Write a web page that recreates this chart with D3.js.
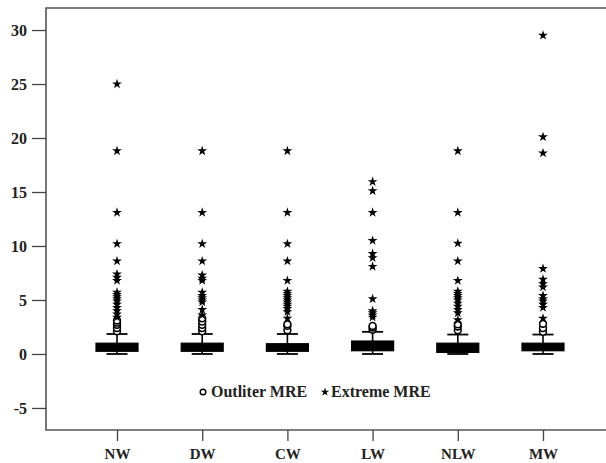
<!DOCTYPE html>
<html>
<head>
<meta charset="utf-8">
<script src="https://cdn.jsdelivr.net/npm/d3@7"></script>
<style>
  html, body { margin: 0; padding: 0; background: #fff; }
  svg { display: block; }
  text { font-family: "Liberation Serif", "Times New Roman", serif; }
</style>
</head>
<body>
<svg id="chart" width="606" height="463"></svg>
<script>
const categories = ["NW", "DW", "CW", "LW", "NLW", "MW"];
const whiskerLow  = [0, 0, 0, 0, 0, 0];
const q1          = [0.25, 0.25, 0.25, 0.3, 0.15, 0.3];
const median      = [0.6, 0.6, 0.55, 0.75, 0.5, 0.6];
const q3          = [1.0, 1.0, 0.95, 1.2, 1.0, 1.0];
const whiskerHigh = [1.85, 1.85, 1.85, 2.05, 1.8, 1.8];
const outliers = [
  [2.1, 2.4, 2.7, 2.9, 3.1],
  [2.1, 2.4, 2.7, 3.0, 3.3],
  [2.2, 2.6, 2.75],
  [2.25, 2.45, 2.6],
  [2.2, 2.55, 2.75],
  [2.05, 2.4, 2.8]
];
const extremes = [
  [3.4, 3.7, 4.0, 4.3, 4.6, 4.9, 5.1, 5.3, 5.5, 5.7, 6.8, 7.1, 7.4, 8.6, 10.2, 13.1, 18.8, 25.0],
  [3.6, 4.1, 4.8, 5.0, 5.2, 5.4, 5.7, 6.8, 7.0, 7.3, 8.6, 10.2, 13.1, 18.8],
  [3.3, 3.9, 4.2, 4.4, 4.6, 4.8, 5.0, 5.2, 5.4, 5.6, 5.8, 6.8, 8.6, 10.2, 13.1, 18.8],
  [3.4, 3.6, 3.8, 4.0, 5.1, 8.1, 8.9, 9.3, 10.5, 13.1, 15.1, 15.95],
  [3.15, 3.8, 4.1, 4.4, 4.7, 5.0, 5.2, 5.4, 5.6, 5.8, 6.8, 8.6, 10.25, 13.1, 18.8],
  [3.3, 4.3, 4.6, 4.9, 5.1, 5.4, 6.2, 6.5, 6.9, 7.9, 18.6, 20.1, 29.5]
];
const yTicks = [-5, 0, 5, 10, 15, 20, 25, 30];
const legendLabels = ["Outliter MRE", "Extreme MRE"];

const svg = d3.select("#chart");
const frame = { left: 46, right: 620, top: 8, bottom: 430 };

const y = d3.scaleLinear().domain([-7.04, 32.04]).range([frame.bottom, frame.top]);
const x = d3.scalePoint().domain(categories).range([117, 543]);

// frame (left, top, bottom)
svg.append("path")
  .attr("d", `M${frame.right},${frame.top}H${frame.left}V${frame.bottom}H${frame.right}`)
  .attr("fill", "none").attr("stroke", "#555").attr("stroke-width", 1.6);

// y axis
const yAxis = svg.append("g").attr("transform", `translate(${frame.left},0)`)
  .call(d3.axisLeft(y).tickValues(yTicks).tickSize(14).tickPadding(5).tickFormat(d => String(d)));
yAxis.select(".domain").remove();
yAxis.selectAll(".tick line").attr("stroke", "#444").attr("stroke-width", 1.3);
yAxis.selectAll(".tick text").attr("font-size", 16).attr("font-weight", "bold")
  .attr("fill", "#222").style("font-family", '"Liberation Serif", serif');

// x axis
const xAxis = svg.append("g").attr("transform", `translate(0,${frame.bottom})`)
  .call(d3.axisBottom(x).tickSize(11).tickPadding(7));
xAxis.select(".domain").remove();
xAxis.selectAll(".tick line").attr("stroke", "#444").attr("stroke-width", 1.3);
xAxis.selectAll(".tick text").attr("font-size", 15).attr("font-weight", "bold")
  .attr("fill", "#222").style("font-family", '"Liberation Serif", serif');

const boxW = 42, capW = 21;
const star = d3.symbol().type(d3.symbolStar).size(30);
const starLegend = d3.symbol().type(d3.symbolStar).size(22);

categories.forEach((c, i) => {
  const cx = x(c);
  const g = svg.append("g");
  g.append("line").attr("x1", cx).attr("x2", cx)
    .attr("y1", y(whiskerLow[i])).attr("y2", y(whiskerHigh[i]))
    .attr("stroke", "#000").attr("stroke-width", 1.6);
  [whiskerLow[i], whiskerHigh[i]].forEach(v => {
    g.append("line").attr("x1", cx - capW / 2).attr("x2", cx + capW / 2)
      .attr("y1", y(v)).attr("y2", y(v))
      .attr("stroke", "#000").attr("stroke-width", 1.8);
  });
  g.append("rect").attr("x", cx - boxW / 2).attr("width", boxW)
    .attr("y", y(q3[i])).attr("height", y(q1[i]) - y(q3[i]))
    .attr("fill", "#000").attr("stroke", "#000").attr("stroke-width", 1.2);
  g.append("line").attr("x1", cx - boxW / 2 + 1).attr("x2", cx + boxW / 2 - 1)
    .attr("y1", y(median[i])).attr("y2", y(median[i]))
    .attr("stroke", "#000").attr("stroke-width", 1);
  g.selectAll("circle.o").data(outliers[i]).join("circle")
    .attr("cx", cx).attr("cy", d => y(d)).attr("r", 3.4)
    .attr("fill", "#fff").attr("stroke", "#000").attr("stroke-width", 1.6);
  g.selectAll("path.s").data(extremes[i]).join("path")
    .attr("d", star).attr("transform", d => `translate(${cx},${y(d)})`)
    .attr("fill", "#000");
});

// legend
const lg = svg.append("g");
lg.append("circle").attr("cx", 203).attr("cy", 392).attr("r", 2.8)
  .attr("fill", "#fff").attr("stroke", "#000").attr("stroke-width", 1.4);
lg.append("text").attr("x", 211).attr("y", 397).text(legendLabels[0])
  .attr("font-size", 16).attr("font-weight", "bold").attr("fill", "#222");
lg.append("path").attr("d", starLegend).attr("transform", "translate(325,392)").attr("fill", "#000");
lg.append("text").attr("x", 331).attr("y", 397).text(legendLabels[1])
  .attr("font-size", 16).attr("font-weight", "bold").attr("fill", "#222");
</script>
</body>
</html>
